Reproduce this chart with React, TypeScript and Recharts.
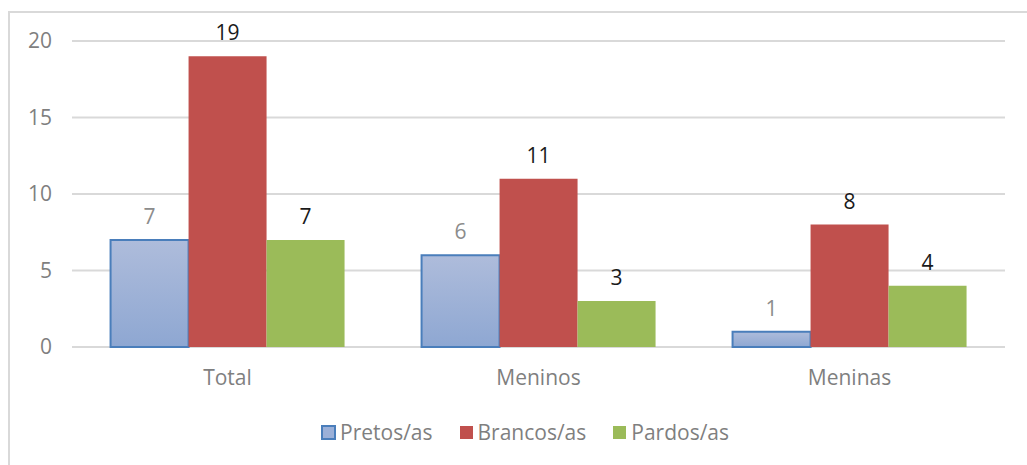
import React from "react";
import { BarChart, Bar, XAxis, YAxis, CartesianGrid, LabelList } from "recharts";

const categories = ["Total", "Meninos", "Meninas"];
const pretos = [7, 6, 1];
const brancos = [19, 11, 8];
const pardos = [7, 3, 4];
const yTicks = [0, 5, 10, 15, 20];
const seriesNames = ["Pretos/as", "Brancos/as", "Pardos/as"];

const data = categories.map((c, i) => ({
  name: c,
  pretos: pretos[i],
  brancos: brancos[i],
  pardos: pardos[i],
}));

const FONT = "'Open Sans', 'Liberation Sans', sans-serif";
const FS = 21;

const legendItems = [
  { name: seriesNames[0], fill: "#9bb0d8", stroke: "#4a7ebb" },
  { name: seriesNames[1], fill: "#c0504d", stroke: "#c0504d" },
  { name: seriesNames[2], fill: "#9bbb59", stroke: "#9bbb59" },
];

export default function App() {
  return (
    <div style={{ position: "absolute", left: 0, top: 0, width: 1027, height: 465, background: "#fff" }}>
      <div
        style={{
          position: "absolute",
          left: 8,
          top: 11,
          width: 1019,
          height: 454,
          borderLeft: "2px solid #d9d9d9",
          borderTop: "2px solid #d9d9d9",
        }}
      />
      <div style={{ position: "absolute", left: 0, top: 0 }}>
        <BarChart
          width={1027}
          height={465}
          data={data}
          margin={{ top: 41, right: 22, bottom: 88, left: 0 }}
          barCategoryGap="12.4%"
          barGap={0}
        >
          <defs>
            <linearGradient id="pretosGrad" x1="0" y1="0" x2="0" y2="1">
              <stop offset="0%" stopColor="#aebcdb" />
              <stop offset="100%" stopColor="#8ea7d2" />
            </linearGradient>
          </defs>
          <CartesianGrid vertical={false} stroke="#d9d9d9" strokeWidth={2} />
          <XAxis
            dataKey="name"
            axisLine={false}
            tickLine={false}
            tickMargin={17}
            tick={{ fill: "#7f7f7f", fontSize: FS, fontFamily: FONT }}
          />
          <YAxis
            width={72}
            domain={[0, 20]}
            ticks={yTicks}
            axisLine={false}
            tickLine={false}
            tickMargin={14}
            tick={{ fill: "#7f7f7f", fontSize: FS, fontFamily: FONT }}
          />
          <Bar dataKey="pretos" fill="url(#pretosGrad)" stroke="#4a7ebb" strokeWidth={2} isAnimationActive={false}>
            <LabelList dataKey="pretos" position="top" offset={16} fill="#8c8c8c" fontSize={FS} fontFamily={FONT} />
          </Bar>
          <Bar dataKey="brancos" fill="#c0504d" isAnimationActive={false}>
            <LabelList dataKey="brancos" position="top" offset={16} fill="#1a1a1a" fontSize={FS} fontFamily={FONT} />
          </Bar>
          <Bar dataKey="pardos" fill="#9bbb59" isAnimationActive={false}>
            <LabelList dataKey="pardos" position="top" offset={16} fill="#1a1a1a" fontSize={FS} fontFamily={FONT} />
          </Bar>
        </BarChart>
      </div>
      <div
        style={{
          position: "absolute",
          left: 321,
          top: 420,
          display: "flex",
          fontFamily: FONT,
          fontSize: FS,
          lineHeight: "24px",
          color: "#7f7f7f",
          whiteSpace: "nowrap",
        }}
      >
        {legendItems.map((it, i) => (
          <div key={i} style={{ display: "flex", alignItems: "center", marginRight: i < 2 ? 26 : 0 }}>
            <svg width={15} height={15} style={{ marginRight: 4 }}>
              <rect
                x={1}
                y={1}
                width={13}
                height={13}
                fill={it.fill}
                stroke={it.stroke}
                strokeWidth={i === 0 ? 2 : 0}
              />
            </svg>
            <span>{it.name}</span>
          </div>
        ))}
      </div>
    </div>
  );
}
